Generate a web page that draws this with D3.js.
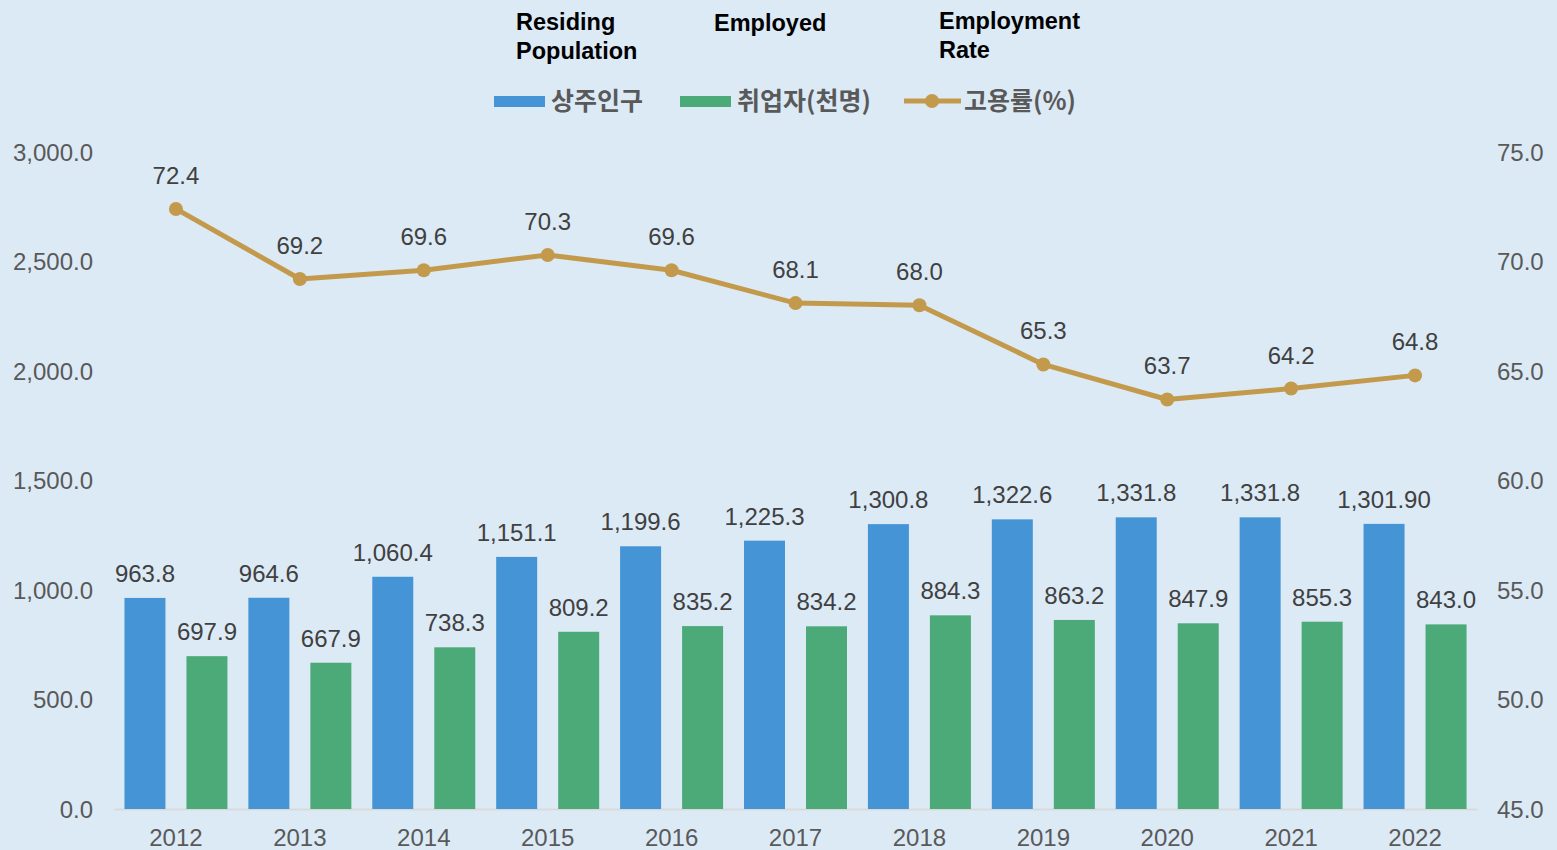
<!DOCTYPE html>
<html>
<head>
<meta charset="utf-8">
<script src="https://cdn.jsdelivr.net/npm/d3@7"></script>
<style>
  body { margin: 0; background: #dceaf6; }
  svg { display: block; }
</style>
</head>
<body>
<div id="chart"></div>
<script>
var years = ["2012","2013","2014","2015","2016","2017","2018","2019","2020","2021","2022"];
var population = [963.8, 964.6, 1060.4, 1151.1, 1199.6, 1225.3, 1300.8, 1322.6, 1331.8, 1331.8, 1301.9];
var popLabels = ["963.8","964.6","1,060.4","1,151.1","1,199.6","1,225.3","1,300.8","1,322.6","1,331.8","1,331.8","1,301.90"];
var employed = [697.9, 667.9, 738.3, 809.2, 835.2, 834.2, 884.3, 863.2, 847.9, 855.3, 843.0];
var rate = [72.4, 69.2, 69.6, 70.3, 69.6, 68.1, 68.0, 65.3, 63.7, 64.2, 64.8];
var leftTicks = [0, 500, 1000, 1500, 2000, 2500, 3000];
var rightTicks = [45, 50, 55, 60, 65, 70, 75];

var W = 1557, H = 850;
var blue = "#4595d6", green = "#4caa78", gold = "#c39a4c";
var fontF = "'Liberation Sans', Arial, sans-serif";
var krF = "'Noto Sans CJK KR', 'Liberation Sans', sans-serif";
var fs = 24;

var svg = d3.select("#chart").append("svg")
  .attr("width", W).attr("height", H);

svg.append("rect").attr("width", W).attr("height", H).attr("fill", "#dceaf6");

var x = d3.scaleBand().domain(years).range([114, 1477]);
var yL = d3.scaleLinear().domain([0, 3000]).range([809, 152]);
var yR = d3.scaleLinear().domain([45, 75]).range([809, 152]);
var barW = 41, off = 31;

// left axis
var axL = svg.append("g").attr("transform", "translate(93,0)")
  .call(d3.axisLeft(yL).tickValues(leftTicks).tickSize(0).tickPadding(0)
    .tickFormat(function(d){ return d3.format(",.1f")(d); }));
axL.select(".domain").remove();
axL.selectAll("text").attr("font-family", fontF).attr("font-size", fs)
  .attr("fill", "#595959").attr("dy", "0.35em");

// right axis
var axR = svg.append("g").attr("transform", "translate(1497,0)")
  .call(d3.axisRight(yR).tickValues(rightTicks).tickSize(0).tickPadding(0)
    .tickFormat(d3.format(".1f")));
axR.select(".domain").remove();
axR.selectAll("text").attr("font-family", fontF).attr("font-size", fs)
  .attr("fill", "#595959").attr("dy", "0.35em");

// x axis
var axX = svg.append("g").attr("transform", "translate(0,809)")
  .call(d3.axisBottom(x).tickSize(0).tickPadding(20));
axX.select(".domain").attr("stroke", "#d9d9d9").attr("stroke-width", 2);
axX.selectAll("text").attr("font-family", fontF).attr("font-size", fs)
  .attr("fill", "#595959");

// bars
svg.append("g").selectAll("rect").data(population).enter().append("rect")
  .attr("x", function(d, i){ return x(years[i]) + x.bandwidth()/2 - off - barW/2; })
  .attr("y", function(d){ return yL(d); })
  .attr("width", barW)
  .attr("height", function(d){ return 809 - yL(d); })
  .attr("fill", blue);

svg.append("g").selectAll("rect").data(employed).enter().append("rect")
  .attr("x", function(d, i){ return x(years[i]) + x.bandwidth()/2 + off - barW/2; })
  .attr("y", function(d){ return yL(d); })
  .attr("width", barW)
  .attr("height", function(d){ return 809 - yL(d); })
  .attr("fill", green);

svg.append("g").selectAll("text").data(population).enter().append("text")
  .attr("x", function(d, i){ return x(years[i]) + x.bandwidth()/2 - off; })
  .attr("y", function(d){ return yL(d) - 16; })
  .attr("text-anchor", "middle")
  .attr("font-family", fontF).attr("font-size", fs).attr("fill", "#404040")
  .text(function(d, i){ return popLabels[i]; });

svg.append("g").selectAll("text").data(employed).enter().append("text")
  .attr("x", function(d, i){ return x(years[i]) + x.bandwidth()/2 + off; })
  .attr("y", function(d){ return yL(d) - 16; })
  .attr("text-anchor", "middle")
  .attr("font-family", fontF).attr("font-size", fs).attr("fill", "#404040")
  .text(function(d){ return d3.format(".1f")(d); });

// line
var line = d3.line()
  .x(function(d, i){ return x(years[i]) + x.bandwidth()/2; })
  .y(function(d){ return yR(d); });
svg.append("path").datum(rate).attr("d", line)
  .attr("fill", "none").attr("stroke", gold).attr("stroke-width", 5)
  .attr("stroke-linejoin", "round");
svg.append("g").selectAll("circle").data(rate).enter().append("circle")
  .attr("cx", function(d, i){ return x(years[i]) + x.bandwidth()/2; })
  .attr("cy", function(d){ return yR(d); })
  .attr("r", 7).attr("fill", gold);
svg.append("g").selectAll("text").data(rate).enter().append("text")
  .attr("x", function(d, i){ return x(years[i]) + x.bandwidth()/2; })
  .attr("y", function(d){ return yR(d) - 25; })
  .attr("text-anchor", "middle")
  .attr("font-family", fontF).attr("font-size", fs).attr("fill", "#404040")
  .text(function(d){ return d3.format(".1f")(d); });

// legend
var lg = svg.append("g");
lg.append("rect").attr("x", 494).attr("y", 96).attr("width", 51).attr("height", 11).attr("fill", blue);
lg.append("text").attr("x", 551).attr("y", 110).attr("font-family", krF).attr("font-weight", "bold")
  .attr("font-size", 25).attr("fill", "#595959").text("상주인구");
lg.append("rect").attr("x", 680).attr("y", 96).attr("width", 51).attr("height", 11).attr("fill", green);
lg.append("text").attr("x", 737).attr("y", 110).attr("font-family", krF).attr("font-weight", "bold")
  .attr("font-size", 25).attr("fill", "#595959").text("취업자(천명)");
lg.append("line").attr("x1", 904).attr("x2", 961).attr("y1", 101).attr("y2", 101)
  .attr("stroke", gold).attr("stroke-width", 5);
lg.append("circle").attr("cx", 932).attr("cy", 101).attr("r", 7).attr("fill", gold);
lg.append("text").attr("x", 964).attr("y", 110).attr("font-family", krF).attr("font-weight", "bold")
  .attr("font-size", 25).attr("fill", "#595959").text("고용률(%)");

// english captions
var cap = [
  {x: 516, lines: ["Residing", "Population"], y: 30},
  {x: 714, lines: ["Employed"], y: 31},
  {x: 939, lines: ["Employment", "Rate"], y: 29}
];
cap.forEach(function(c){
  var t = svg.append("text").attr("x", c.x).attr("y", c.y)
    .attr("font-family", fontF).attr("font-weight", "bold").attr("font-size", 23.5)
    .attr("fill", "#000");
  c.lines.forEach(function(l, i){
    t.append("tspan").attr("x", c.x).attr("dy", i == 0 ? 0 : 28.5).text(l);
  });
});
</script>
</body>
</html>
